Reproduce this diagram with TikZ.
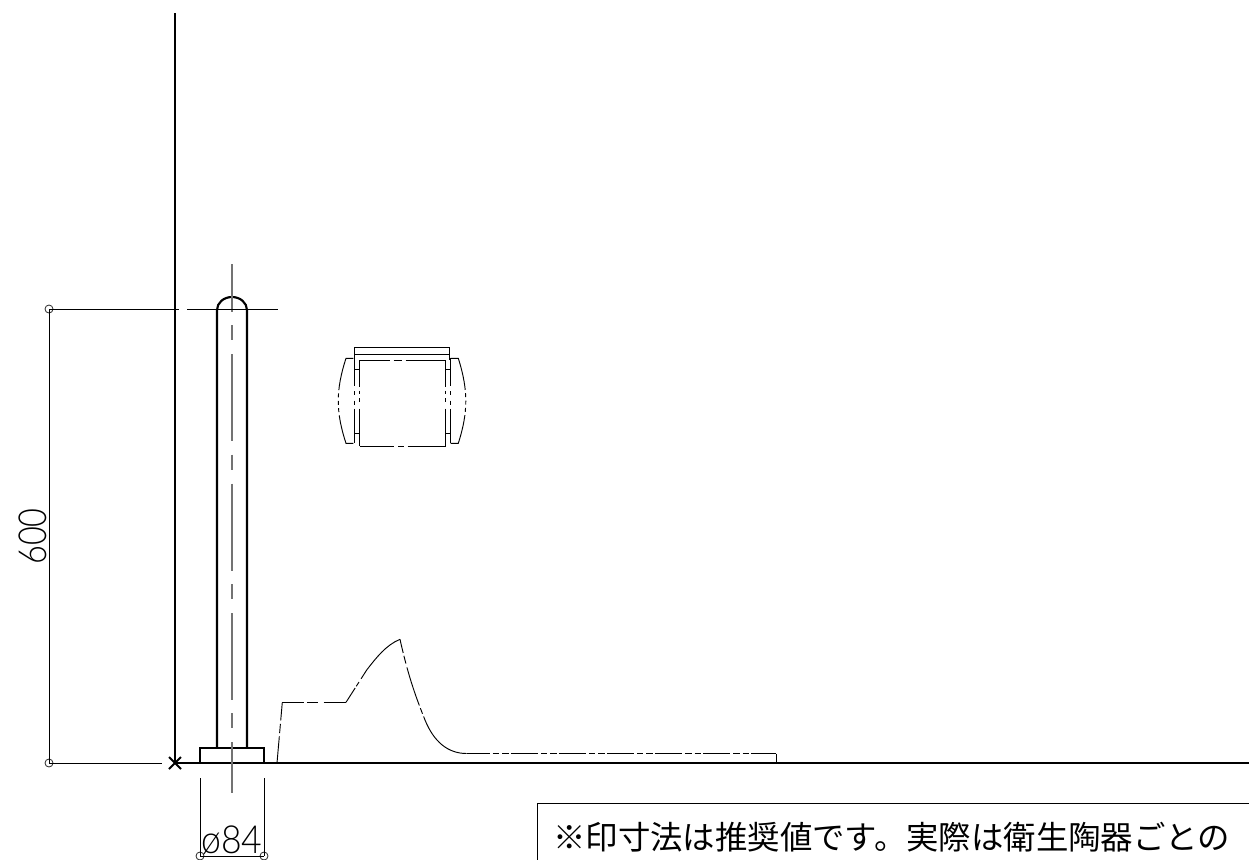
\documentclass[tikz,border=0pt]{standalone}
\usepackage{fontspec}
\usetikzlibrary{calc,positioning}
\newfontfamily\cjkfont{Noto Sans CJK JP}
\newfontfamily\dimfont{Lato Light}
\tikzset{wallline/.style={
            draw,
            line width=1.6pt
        },
        heavyline/.style={
            draw,
            line width=1.6pt
        },
        thinline/.style={
            draw,
            line width=0.75pt
        },
        phantomline/.style={
            draw,
            line width=0.7pt
        },
        centerline/.style={
            draw,
            black!55,
            line width=1pt,
            dash pattern=on 65.25pt off 10pt on 11.25pt off 10.5pt,
            dash phase=29.25pt
        },
        dimline/.style={
            draw,
            line width=0.65pt
        },
        dimdot/.style={
            draw,
            circle,
            black!85,
            line width=0.6pt,
            inner sep=0pt,
            minimum size=6pt
        },
        dimtext/.style={
            font=\dimfont\fontsize{29}{29}\selectfont,
            inner sep=0pt
        }
    }
\begin{document}
\begin{tikzpicture}[x=0.75pt,y=-0.75pt]
        \useasboundingbox (0,0) rectangle (1249,860);
        % wall and floor
        \coordinate (walltop) at (175,13);
        \coordinate (wallfoot) at (175,763);
        \coordinate (floorend) at (1249,763);
        \draw[wallline] (walltop) -- (wallfoot);
        \draw[wallline] (wallfoot) -- (floorend);
        \draw[line width=1.4pt] (169,757) -- (181,769) (169,769) -- (181,757);
        % post
        \draw[heavyline] (217,747) -- (217,310) arc[start angle=180,end angle=360,x radius=15,y radius=13] -- (247,747);
        \draw[heavyline] (200,763) -- (200,748) -- (264,748) -- (264,763);
        \draw[centerline] (232,264) -- (232,793);
        % height dimension
        \node[dimdot] (dimtop) at (49,309) {};
        \node[dimdot] (dimfoot) at (49,763) {};
        \coordinate (headend) at (278,309);
        \draw[dimline] (dimtop.center) -- (dimfoot.center);
        \draw[dimline] (dimtop.center) -- (179,309) (187,309) -- (headend);
        \draw[dimline] (dimfoot.center) -- (162,763);
        \node[dimtext,rotate=90,xscale=0.84] (heightlabel) at (33,536.5) {600};
        % diameter dimension
        \node[dimdot] (dimleft) at (200,856) {};
        \node[dimdot] (dimright) at (264,856) {};
        \draw[dimline] (dimleft.center) -- (dimright.center);
        \draw[dimline] (200,778) -- (dimleft.center);
        \draw[dimline] (264,778) -- (dimright.center);
        \node[dimtext,xscale=0.92] (dialabel) at (232,840) {ø84};
        % wheelchair front
        \draw[thinline] (354.5,360) -- (354.5,347) -- (449.5,347) -- (449.5,360);
        \draw[thinline] (354.5,354.5) -- (449.5,354.5);
        \draw[phantomline,dash pattern=on 23pt off 2.5pt on 6pt off 3pt on 40pt] (359.5,360) -- (445.7,360);
        \draw[phantomline,dash pattern=on 26pt off 3pt on 4.5pt off 2.5pt on 40pt] (359.5,446) -- (445.7,446);
        \foreach \sidex/\outerx in {359.5/354,445.7/450}{
            \draw[phantomline,dash pattern=on 20pt off 3pt on 2.5pt off 3pt on 3pt off 5pt on 40pt] (\sidex,360) -- (\sidex,446);
            \draw[phantomline,dash pattern=on 21pt off 4pt on 3pt off 4pt on 3pt off 3pt on 40pt] (\outerx,358) -- (\outerx,443);
            \draw[thinline] (\sidex,369) -- (\outerx,369) (\sidex,433) -- (\outerx,433);
        }
        \draw[phantomline,dash pattern=on 30pt off 2.5pt on 3pt off 2.5pt on 3pt off 2.5pt on 3pt off 2.5pt on 60pt] (353.3,358.3) -- (346,358.3) .. controls (335.7,390) and (335.7,412) .. (346,443.3) -- (353.3,443.3);
        \draw[phantomline,dash pattern=on 30pt off 2.5pt on 3pt off 2.5pt on 3pt off 2.5pt on 3pt off 2.5pt on 60pt] (450.7,358.3) -- (458.3,358.3) .. controls (468.3,390) and (468.3,412) .. (458.3,443.3) -- (450.7,443.3);
        % wheelchair side
        \draw[phantomline,dash pattern=on 20pt off 2.5pt on 7pt off 2.5pt on 14pt] (277,763) -- (282.3,702.3);
        \draw[phantomline,dash pattern=on 16pt off 2.5pt on 8pt off 4.5pt on 20pt] (282.3,702.3) -- (346,702.3);
        \draw[phantomline,dash pattern=on 12.75pt off 1.5pt on 3.75pt off 3pt on 200pt] (346,702.3) -- (366.7,670) .. controls (376,658) and (386,645) .. (400,639.3);
        \draw[phantomline,dash pattern=on 10.5pt off 2.2pt on 6pt off 3pt on 30pt off 2.2pt on 4.5pt off 2.2pt on 200pt] (400,639.3) .. controls (408,675) and (415,695) .. (425,720) .. controls (434,742) and (448,753.5) .. (466.7,753.5);
        \draw[phantomline,dash pattern=on 20.25pt off 2.25pt on 4.9pt off 2.25pt on 4.9pt off 1.5pt,dash phase=3pt] (466.7,753.5) -- (776,753.5);
        \draw[thinline] (776,753.5) -- (776,763);
        % note box
        \draw[thinline] (537,860) -- (537,803.5) -- (1249,803.5);
        \node[anchor=west,inner sep=0pt,font=\cjkfont\fontsize{24.3}{24.3}\selectfont] (note) at (553,837.5) {※印寸法は推奨値です。実際は衛生陶器ごとの};
    \end{tikzpicture}
\end{document}
